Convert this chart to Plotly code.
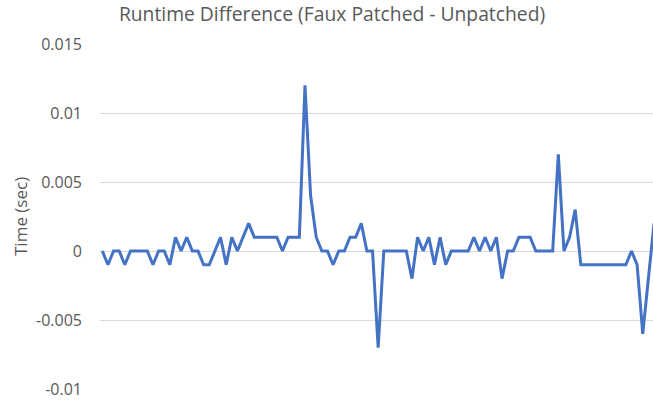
import plotly.graph_objects as go

# Runtime differences in milliseconds (converted to seconds below)
diff_ms = [0, -1, 0, 0, -1, 0, 0, 0, 0, -1,
           0, 0, -1, 1, 0, 1, 0, 0, -1, -1,
           0, 1, -1, 1, 0, 1, 2, 1, 1, 1,
           1, 1, 0, 1, 1, 1, 12, 4, 1, 0,
           0, -1, 0, 0, 1, 1, 2, 0, 0, -7,
           0, 0, 0, 0, 0, -2, 1, 0, 1, -1,
           1, -1, 0, 0, 0, 0, 1, 0, 1, 0,
           1, -2, 0, 0, 1, 1, 1, 0, 0, 0,
           0, 7, 0, 1, 3, -1, -1, -1, -1, -1,
           -1, -1, -1, -1, 0, -1, -6, -2, 2]
runs = list(range(1, len(diff_ms) + 1))
diff_sec = [v / 1000 for v in diff_ms]

tick_vals = [-0.01, -0.005, 0, 0.005, 0.01, 0.015]
tick_text = ["-0.01", "-0.005", "0", "0.005", "0.01", "0.015"]

title_text = "Runtime Difference (Faux Patched - Unpatched)"
y_title = "Time (sec)"

text_color = "#595959"
font_family = "Open Sans, Liberation Sans, sans-serif"

fig = go.Figure()
fig.add_trace(go.Scatter(
    x=runs, y=diff_sec, mode="lines",
    line=dict(color="#4472C4", width=3),
    hoverinfo="x+y",
))

eps = 0.025 / 345
fig.update_layout(
    width=653, height=400,
    margin=dict(l=100, r=0, t=43, b=10, autoexpand=False),
    paper_bgcolor="white", plot_bgcolor="white",
    showlegend=False,
    font=dict(family=font_family, color=text_color, size=16),
    title=dict(text=title_text, x=332 / 653, xanchor="center",
               y=1 - 14 / 400, yanchor="middle",
               font=dict(size=19.3, color=text_color, family=font_family)),
    xaxis=dict(range=[runs[0] - 0.41, runs[0] + 97.82], showgrid=False,
               showticklabels=False, zeroline=False, showline=False, ticks="",
               automargin=False),
    yaxis=dict(range=[-0.01 - eps, 0.015 + eps], tickvals=tick_vals,
               ticktext=tick_text, showgrid=True, gridcolor="#D9D9D9",
               gridwidth=1, zeroline=False, showline=False,
               ticklabelstandoff=17, automargin=False,
               tickfont=dict(size=16, color=text_color, family=font_family)),
    annotations=[dict(text=y_title, textangle=-90, xref="paper", yref="paper",
                      x=(20 - 100) / 553, y=(390 - 217) / 347,
                      xanchor="center", yanchor="middle", showarrow=False,
                      font=dict(size=17, color=text_color, family=font_family))],
)

fig.write_html("out.html",
               config={"displayModeBar": False},
               post_script="document.body.style.margin='0px';")
